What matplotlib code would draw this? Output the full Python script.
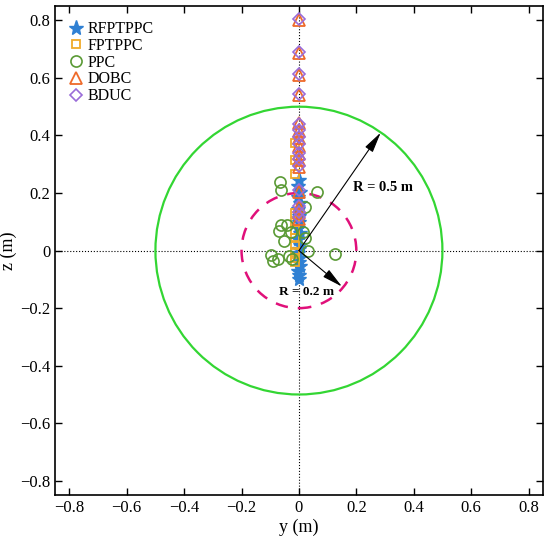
import numpy as np
import matplotlib.pyplot as plt
from matplotlib.patches import Circle

plt.rcParams['font.family'] = ['Liberation Serif', 'DejaVu Serif']
plt.rcParams['mathtext.fontset'] = 'stix'

# RFPTPPC (stars)
star_y = [0.002, -0.003, 0.004, -0.002, 0.003, -0.004, 0.002, 0.001, -0.003, 0.004,
          -0.002, 0.003, 0.0, -0.004, 0.002, -0.001, 0.003, -0.003, 0.001, 0.0]
star_z = [0.245, 0.225, 0.205, 0.185, 0.165, 0.145, 0.12, 0.1, 0.08, 0.06,
          0.04, 0.02, 0.005, -0.01, -0.025, -0.04, -0.055, -0.07, -0.085, -0.1]
# FPTPPC (squares)
sq_y = [-0.012, -0.014, -0.013, -0.012, -0.015, -0.013, -0.014, -0.012, -0.013, -0.014, -0.012]
sq_z = [0.375, 0.315, 0.265, 0.13, 0.098, 0.07, 0.045, 0.02, -0.005, -0.025, -0.04]
# PPC (circles)
ppc_y = [-0.066, -0.062, 0.062, 0.021, -0.062, -0.041, -0.069, -0.028, -0.052, 0.014,
         0.021, 0.031, 0.125, -0.097, -0.073, -0.09, -0.035, -0.024]
ppc_z = [0.237, 0.209, 0.205, 0.15, 0.088, 0.088, 0.068, 0.063, 0.033, 0.066,
         0.045, 0.0, -0.012, -0.017, -0.028, -0.035, -0.02, -0.028]
# DOBC (triangles) and BDUC (diamonds)
dobc_y = [0.001, 0.0, 0.002, 0.0, 0.001, 0.002, 0.0, 0.001, 0.002, 0.0, 0.001, 0.002, 0.0, 0.001, 0.002]
dobc_z = [0.80, 0.685, 0.61, 0.54, 0.445, 0.415, 0.39, 0.365, 0.335, 0.315, 0.29, 0.205, 0.15, 0.13, 0.11]
bduc_y = [0.0, 0.001, 0.0, 0.001, 0.0, 0.001, 0.002, 0.0, 0.001, 0.0, 0.002, 0.0, 0.001, 0.0, 0.001]
bduc_z = [0.805, 0.69, 0.615, 0.545, 0.44, 0.42, 0.395, 0.37, 0.34, 0.32, 0.295, 0.21, 0.155, 0.135, 0.115]

fig = plt.figure(figsize=(5.5, 5.43), dpi=100)
ax = fig.add_axes([0.1, 0.088, 0.887, 0.901])

ax.axhline(0, color='k', ls=':', lw=0.8, zorder=1)
ax.axvline(0, color='k', ls=':', lw=0.8, zorder=1)
ax.add_patch(Circle((0, 0), 0.5, fill=False, ec='#33d633', lw=1.6, zorder=2))
ax.add_patch(Circle((0, 0), 0.2, fill=False, ec='#e0107a', lw=1.8, ls=(0, (5, 4)), zorder=2))

ax.plot(star_y, star_z, ls='none', marker='*', ms=11, color='#2f80d3', label='RFPTPPC', zorder=3)
ax.plot(sq_y, sq_z, ls='none', marker='s', ms=6, mfc='none', mec='#f0aa2a', mew=1.3, label='FPTPPC', zorder=4)
ax.plot(ppc_y, ppc_z, ls='none', marker='o', ms=8, mfc='none', mec='#5a9a35', mew=1.2, label='PPC', zorder=4)
ax.plot(dobc_y, dobc_z, ls='none', marker='^', ms=8, mfc='none', mec='#ee6a2a', mew=1.3, label='DOBC', zorder=5)
ax.plot(bduc_y, bduc_z, ls='none', marker='D', ms=6, mfc='none', mec='#9a6cd8', mew=1.2, label='BDUC', zorder=6)

head = '-|>,head_length=0.9,head_width=0.2'
ax.annotate('', xy=(0.285, 0.41), xytext=(0, 0),
            arrowprops=dict(arrowstyle=head, color='k', lw=0.8, mutation_scale=14, shrinkA=0, shrinkB=0), zorder=7)
ax.annotate('', xy=(0.15, -0.125), xytext=(0, 0),
            arrowprops=dict(arrowstyle=head, color='k', lw=0.8, mutation_scale=14, shrinkA=0, shrinkB=0), zorder=7)
ax.text(0.292, 0.22, 'R = 0.5 m', fontsize=10.5, fontweight='bold', ha='center', va='center', zorder=8)
ax.text(0.027, -0.143, 'R = 0.2 m', fontsize=9.5, fontweight='bold', ha='center', va='center', zorder=8)

ax.set_xlim(-0.85, 0.85)
ax.set_ylim(-0.85, 0.85)
ticks = [-0.8, -0.6, -0.4, -0.2, 0, 0.2, 0.4, 0.6, 0.8]
labels = ['\u22120.8', '\u22120.6', '\u22120.4', '\u22120.2', '0', '0.2', '0.4', '0.6', '0.8']
ax.set_xticks(ticks, labels)
ax.set_yticks(ticks, labels)
ax.tick_params(direction='in', top=True, right=True, length=5, width=1, labelsize=12)
for s in ax.spines.values():
    s.set_linewidth(1.2)
ax.set_xlabel('y (m)', fontsize=13, labelpad=2)
ax.set_ylabel('z (m)', fontsize=13, labelpad=2)

ax.legend(loc='upper left', bbox_to_anchor=(-0.012, 1.005), frameon=False, fontsize=11.5,
          handletextpad=0.1, labelspacing=0.05, borderaxespad=0.7, handlelength=1.2)

fig.savefig('out.png', dpi=100)
